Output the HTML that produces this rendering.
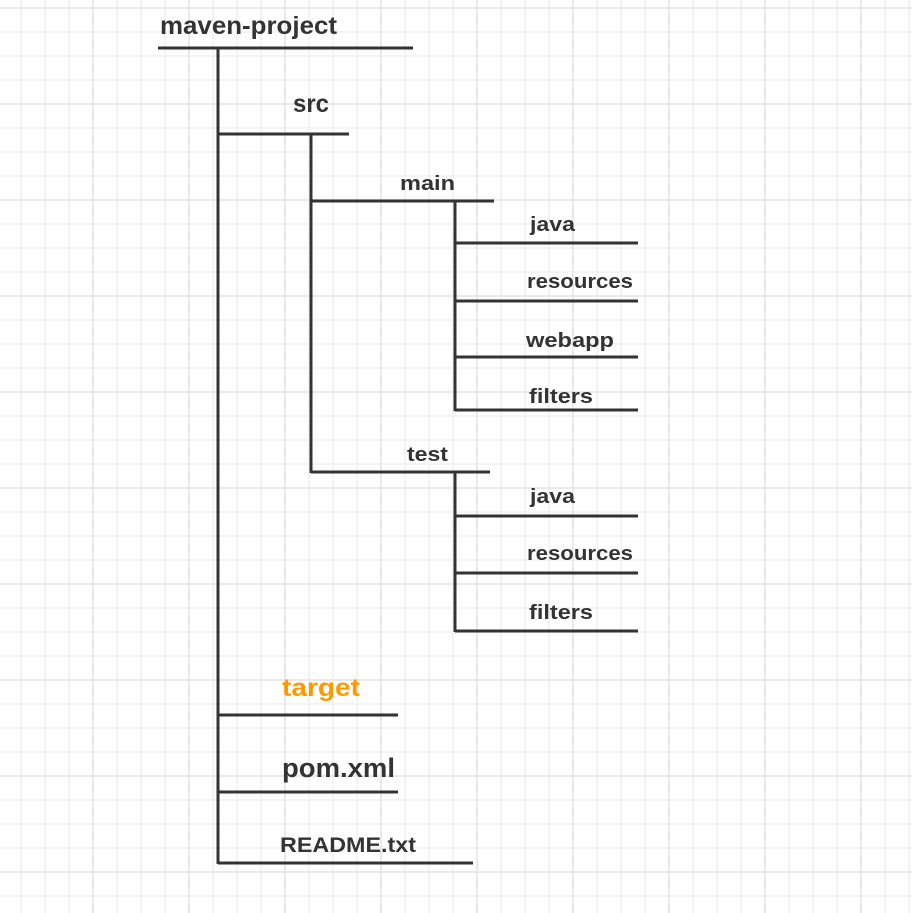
<!DOCTYPE html>
<html><head><meta charset="utf-8"><style>
html,body{margin:0;padding:0;background:#fff;}
svg{display:block;}
text{font-family:"Liberation Sans",sans-serif;font-weight:bold;fill:#333;}
</style></head><body>
<svg width="912" height="913" viewBox="0 0 912 913" xmlns="http://www.w3.org/2000/svg">
<defs>
<pattern id="g" x="9" y="-4" width="24" height="24" patternUnits="userSpaceOnUse">
<path d="M12 0V24M0 12H24" stroke="#f3f3f3" stroke-width="2" fill="none"/>
</pattern>
<pattern id="G" x="45" y="-40" width="96" height="96" patternUnits="userSpaceOnUse">
<path d="M48 0V96M0 48H96" stroke="#e9e9e9" stroke-width="2" fill="none"/>
</pattern>
</defs>
<rect width="912" height="913" fill="url(#g)"/>
<rect width="912" height="913" fill="url(#G)"/>
<g stroke="#333" stroke-width="3" fill="none">
<path d="M158 48H413M218 48V864"/>
<path d="M218 134H349M311 134V473"/>
<path d="M311 201H494M455 201V411"/>
<path d="M455 243H638M455 301H638M455 357H638M455 410H638"/>
<path d="M311 472H490M455 472V632"/>
<path d="M455 516H638M455 573H638M455 631H638"/>
<path d="M218 715H398M218 792H398M218 863H473"/>
</g>
<text x="160" y="34" font-size="25" textLength="177" lengthAdjust="spacingAndGlyphs">maven-project</text>
<text x="293" y="112" font-size="25" textLength="36" lengthAdjust="spacingAndGlyphs">src</text>
<text x="400" y="190" font-size="20" textLength="55" lengthAdjust="spacingAndGlyphs">main</text>
<text x="530" y="231" font-size="20" textLength="45" lengthAdjust="spacingAndGlyphs">java</text>
<text x="527" y="288" font-size="20" textLength="106" lengthAdjust="spacingAndGlyphs">resources</text>
<text x="526" y="347" font-size="20" textLength="88" lengthAdjust="spacingAndGlyphs">webapp</text>
<text x="529" y="403" font-size="20" textLength="64" lengthAdjust="spacingAndGlyphs">filters</text>
<text x="407" y="461" font-size="20" textLength="41" lengthAdjust="spacingAndGlyphs">test</text>
<text x="530" y="503" font-size="20" textLength="45" lengthAdjust="spacingAndGlyphs">java</text>
<text x="527" y="560" font-size="20" textLength="106" lengthAdjust="spacingAndGlyphs">resources</text>
<text x="529" y="619" font-size="20" textLength="64" lengthAdjust="spacingAndGlyphs">filters</text>
<text x="282" y="696" font-size="25" textLength="78" lengthAdjust="spacingAndGlyphs" style="fill:#ff9900">target</text>
<text x="282" y="777" font-size="27" textLength="113" lengthAdjust="spacingAndGlyphs">pom.xml</text>
<text x="280" y="852" font-size="21" textLength="136" lengthAdjust="spacingAndGlyphs">README.txt</text>
</svg>
</body></html>
